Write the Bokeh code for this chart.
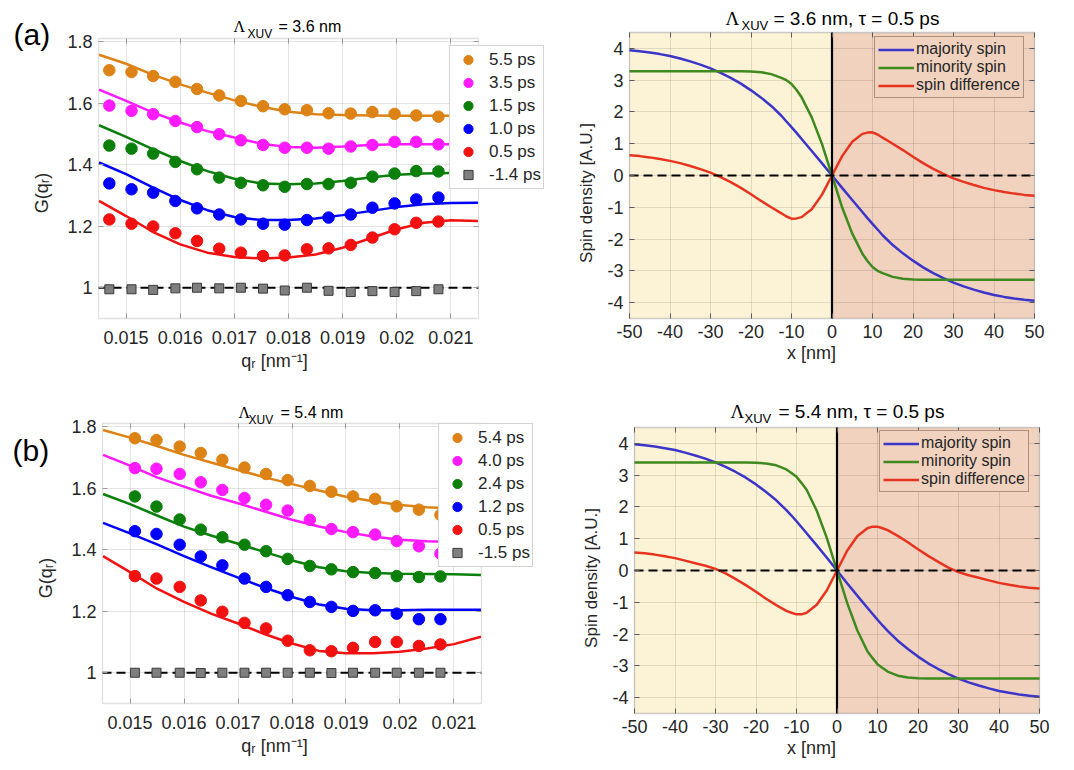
from bokeh.plotting import figure
from bokeh.models import (Range1d, FixedTicker, CustomJSTickFormatter, BoxAnnotation,
                          Label, Legend, LegendItem, LinearAxis)
from bokeh.layouts import row, column
from bokeh.embed import file_html
from bokeh.resources import INLINE

FONT = "Liberation Sans"
SERIF = "Liberation Serif"

# ---------------- data: panel (a), Lambda_XUV = 3.6 nm ----------------
q_a = [0.01469, 0.01510, 0.01550, 0.01591, 0.01631, 0.01672, 0.01712, 0.01753,
       0.01793, 0.01834, 0.01874, 0.01915, 0.01955, 0.01996, 0.02036, 0.02077]
labels_a = ["5.5 ps", "3.5 ps", "1.5 ps", "1.0 ps", "0.5 ps"]
g_a_55 = [1.707, 1.701, 1.688, 1.669, 1.646, 1.625, 1.607, 1.590, 1.580, 1.577, 1.567, 1.566, 1.571, 1.565, 1.560, 1.556]
g_a_35 = [1.592, 1.575, 1.564, 1.542, 1.522, 1.499, 1.479, 1.464, 1.455, 1.455, 1.452, 1.459, 1.464, 1.474, 1.474, 1.466]
g_a_15 = [1.462, 1.452, 1.436, 1.409, 1.385, 1.358, 1.341, 1.333, 1.328, 1.337, 1.337, 1.341, 1.361, 1.371, 1.379, 1.378]
g_a_10 = [1.339, 1.320, 1.309, 1.282, 1.258, 1.238, 1.222, 1.208, 1.205, 1.220, 1.228, 1.238, 1.260, 1.274, 1.287, 1.293]
g_a_05 = [1.222, 1.208, 1.199, 1.177, 1.152, 1.127, 1.114, 1.103, 1.105, 1.125, 1.128, 1.139, 1.163, 1.190, 1.211, 1.215]
ref_a_label = "-1.4 ps"
g_a_ref = [0.995, 0.995, 0.993, 0.998, 1.000, 0.998, 1.000, 0.997, 0.991, 1.000, 0.990, 0.986, 0.989, 0.986, 0.989, 0.995]

q_fit = [0.0145, 0.0150, 0.0155, 0.0160, 0.0165, 0.0170, 0.0175, 0.0180,
         0.0185, 0.0190, 0.0195, 0.0200, 0.0205, 0.0210, 0.0215]
fit_a_55 = [1.757, 1.728, 1.692, 1.661, 1.634, 1.609, 1.588, 1.572, 1.564, 1.561, 1.560, 1.559, 1.559, 1.559, 1.559]
fit_a_35 = [1.644, 1.607, 1.569, 1.537, 1.509, 1.488, 1.468, 1.457, 1.455, 1.459, 1.464, 1.466, 1.466, 1.466, 1.466]
fit_a_15 = [1.528, 1.490, 1.450, 1.412, 1.379, 1.354, 1.339, 1.336, 1.339, 1.347, 1.358, 1.367, 1.371, 1.373, 1.373]
fit_a_10 = [1.407, 1.369, 1.325, 1.285, 1.252, 1.230, 1.220, 1.220, 1.225, 1.236, 1.249, 1.262, 1.271, 1.275, 1.276]
fit_a_05 = [1.282, 1.233, 1.181, 1.141, 1.114, 1.100, 1.095, 1.098, 1.108, 1.130, 1.160, 1.190, 1.211, 1.219, 1.217]

# ---------------- data: panel (b), Lambda_XUV = 5.4 nm ----------------
q_b = [0.01509, 0.01549, 0.01592, 0.01631, 0.01671, 0.01712, 0.01752, 0.01792,
       0.01833, 0.01873, 0.01913, 0.01954, 0.01994, 0.02035, 0.02075]
labels_b = ["5.4 ps", "4.0 ps", "2.4 ps", "1.2 ps", "0.5 ps"]
g_b_54 = [1.762, 1.756, 1.735, 1.714, 1.692, 1.667, 1.646, 1.626, 1.607, 1.588, 1.573, 1.565, 1.541, 1.530, 1.513]
g_b_40 = [1.665, 1.663, 1.646, 1.619, 1.594, 1.568, 1.546, 1.527, 1.497, 1.467, 1.457, 1.449, 1.428, 1.411, 1.387]
g_b_24 = [1.573, 1.540, 1.498, 1.465, 1.440, 1.416, 1.395, 1.370, 1.347, 1.336, 1.327, 1.324, 1.314, 1.311, 1.313]
g_b_12 = [1.460, 1.451, 1.416, 1.378, 1.349, 1.306, 1.279, 1.252, 1.230, 1.214, 1.201, 1.203, 1.192, 1.174, 1.174]
g_b_05 = [1.314, 1.306, 1.279, 1.235, 1.198, 1.162, 1.144, 1.104, 1.073, 1.070, 1.081, 1.100, 1.100, 1.087, 1.092]
ref_b_label = "-1.5 ps"
g_b_ref = [1.000, 1.000, 1.000, 0.999, 1.000, 1.000, 1.000, 1.000, 1.000, 0.999, 1.000, 1.000, 1.000, 1.000, 1.000]

fit_b_54 = [1.789, 1.764, 1.737, 1.708, 1.683, 1.659, 1.635, 1.613, 1.592, 1.572, 1.557, 1.545, 1.538, 1.534, 1.532]
fit_b_40 = [1.708, 1.673, 1.635, 1.605, 1.575, 1.551, 1.524, 1.497, 1.475, 1.457, 1.443, 1.432, 1.427, 1.425, 1.424]
fit_b_24 = [1.581, 1.548, 1.511, 1.475, 1.446, 1.419, 1.392, 1.365, 1.343, 1.330, 1.324, 1.322, 1.321, 1.320, 1.318]
fit_b_12 = [1.487, 1.453, 1.417, 1.379, 1.343, 1.309, 1.276, 1.246, 1.222, 1.208, 1.203, 1.203, 1.205, 1.205, 1.205]
fit_b_05 = [1.379, 1.327, 1.273, 1.230, 1.192, 1.160, 1.125, 1.095, 1.071, 1.063, 1.063, 1.068, 1.079, 1.093, 1.117]

baseline_g = 1.0
q_range = (0.01449, 0.02151)
g_range = (0.9, 1.81)

# ---------------- data: spin density panels ----------------
x_nm = [-50, -47.5, -45, -42.5, -40, -37.5, -35, -32.5, -30, -27.5, -25, -22.5, -20, -17.5,
        -15, -12.5, -11.25, -10, -8.75, -7.5, -5, -2.5, 0, 2.5, 5, 7.5, 8.75, 10, 11.25, 12.5,
        15, 17.5, 20, 22.5, 25, 27.5, 30, 32.5, 35, 37.5, 40, 42.5, 45, 47.5, 50]
spin_labels = ["majority spin", "minority spin", "spin difference"]

maj_c = [3.94, 3.91, 3.87, 3.82, 3.76, 3.68, 3.59, 3.49, 3.37, 3.23, 3.07, 2.89, 2.68, 2.45,
         2.19, 1.88, 1.70, 1.52, 1.34, 1.15, 0.77, 0.39, 0.0, -0.39, -0.77, -1.15, -1.34, -1.52,
         -1.70, -1.88, -2.19, -2.45, -2.68, -2.89, -3.07, -3.23, -3.37, -3.49, -3.59, -3.68,
         -3.76, -3.82, -3.87, -3.91, -3.94]
min_c = [3.28, 3.28, 3.28, 3.28, 3.28, 3.28, 3.28, 3.28, 3.28, 3.28, 3.28, 3.28, 3.27, 3.25,
         3.19, 3.07, 3.00, 2.88, 2.69, 2.46, 1.83, 1.00, 0.0, -1.00, -1.83, -2.46, -2.69, -2.88,
         -3.00, -3.07, -3.19, -3.25, -3.27, -3.28, -3.28, -3.28, -3.28, -3.28, -3.28, -3.28,
         -3.28, -3.28, -3.28, -3.28, -3.28]
dif_c = [0.64, 0.61, 0.57, 0.52, 0.46, 0.39, 0.30, 0.20, 0.09, -0.05, -0.21, -0.39, -0.59, -0.80,
         -1.00, -1.19, -1.29, -1.36, -1.35, -1.31, -1.06, -0.61, 0.0, 0.61, 1.06, 1.31, 1.35, 1.36,
         1.29, 1.19, 1.00, 0.80, 0.59, 0.39, 0.21, 0.05, -0.09, -0.20, -0.30, -0.39,
         -0.46, -0.52, -0.57, -0.61, -0.64]

maj_d = [3.97, 3.94, 3.90, 3.85, 3.79, 3.71, 3.62, 3.52, 3.40, 3.26, 3.10, 2.92, 2.71, 2.47,
         2.21, 1.90, 1.73, 1.55, 1.36, 1.17, 0.79, 0.40, 0.0, -0.40, -0.79, -1.17, -1.36, -1.55,
         -1.73, -1.90, -2.21, -2.47, -2.71, -2.92, -3.10, -3.26, -3.40, -3.52, -3.62, -3.71,
         -3.79, -3.85, -3.90, -3.94, -3.97]
min_d = [3.40, 3.40, 3.40, 3.40, 3.40, 3.40, 3.40, 3.40, 3.40, 3.40, 3.40, 3.40, 3.39, 3.37,
         3.31, 3.18, 3.07, 2.95, 2.75, 2.54, 1.88, 1.02, 0.0, -1.02, -1.88, -2.54, -2.75, -2.95,
         -3.07, -3.18, -3.31, -3.37, -3.39, -3.40, -3.40, -3.40, -3.40, -3.40, -3.40, -3.40,
         -3.40, -3.40, -3.40, -3.40, -3.40]
dif_d = [0.57, 0.54, 0.50, 0.45, 0.39, 0.31, 0.23, 0.15, 0.05, -0.09, -0.27, -0.46, -0.67, -0.89,
         -1.09, -1.27, -1.33, -1.38, -1.38, -1.33, -1.08, -0.62, 0.0, 0.62, 1.08, 1.33, 1.38, 1.38,
         1.33, 1.27, 1.09, 0.89, 0.67, 0.46, 0.27, 0.09, -0.05, -0.15, -0.23, -0.31,
         -0.39, -0.45, -0.50, -0.54, -0.57]

interface_x = 0.0
zero_level = 0.0
x_range_nm = (-50, 50)
s_range = (-4.5, 4.5)

# ---------------- ticks ----------------
q_ticks = [0.015, 0.016, 0.017, 0.018, 0.019, 0.020, 0.021]
q_tick_labels = ["0.015", "0.016", "0.017", "0.018", "0.019", "0.02", "0.021"]
g_ticks = [1.0, 1.2, 1.4, 1.6, 1.8]
g_tick_labels = ["1", "1.2", "1.4", "1.6", "1.8"]
x_ticks = [-50, -40, -30, -20, -10, 0, 10, 20, 30, 40, 50]
x_tick_labels = ["-50", "-40", "-30", "-20", "-10", "0", "10", "20", "30", "40", "50"]
s_ticks = [-4, -3, -2, -1, 0, 1, 2, 3, 4]
s_tick_labels = ["-4", "-3", "-2", "-1", "0", "1", "2", "3", "4"]

series_colors = ["#DD8214", "#FF1AFF", "#0A7F0A", "#0000FF", "#F21010"]
spin_colors = ["#3B35C8", "#3E8A1E", "#E8341F"]
YELLOW = "#FCF3D6"
SALMON = "#F0D2BE"
TXT = "#262626"


class Panel:
    """A figure whose frame fills the whole figure; the visible axes box is placed inside it."""

    def __init__(self, fig_box, vis_box, xr, yr):
        fx0, fy0, fw, fh = fig_box
        bx0, by0, bx1, by1 = vis_box
        x0, x1 = xr
        y0, y1 = yr
        sx = (x1 - x0) / (bx1 - bx0)
        sy = (y1 - y0) / (by1 - by0)
        X0 = x0 - (bx0 - fx0) * sx
        X1 = x1 + (fx0 + fw - bx1) * sx
        Y1 = y1 + (by0 - fy0) * sy
        Y0 = y0 - (fy0 + fh - by1) * sy
        self.fx0, self.fy0, self.fw, self.fh = fx0, fy0, fw, fh
        self.xr, self.yr = xr, yr
        self.p = figure(width=fw, height=fh, x_range=Range1d(X0, X1), y_range=Range1d(Y0, Y1),
                        min_border=0, min_border_left=0, min_border_right=0,
                        min_border_top=0, min_border_bottom=0,
                        x_axis_location=None, y_axis_location=None,
                        toolbar_location=None, output_backend="svg",
                        background_fill_color="white", border_fill_color="white")
        self.p.outline_line_color = None

    def sc(self, px, py):
        return px - self.fx0, self.fy0 + self.fh - py

    def text(self, px, py, txt, size, font=FONT, color="black"):
        sx, sy = self.sc(px, py)
        self.p.add_layout(Label(x=sx, y=sy, x_units="screen", y_units="screen", text=txt,
                                text_font=font, text_font_size=size, text_color=color,
                                text_baseline="alphabetic", text_align="left"))


def decorate(pan, xt, xl, yt, yl, frame_col, xlab, ylab, xstand, ystand, xlstand, ylstand,
             ylab_size):
    p = pan.p
    x0, x1 = pan.xr
    y0, y1 = pan.yr
    p.xgrid.ticker = FixedTicker(ticks=xt)
    p.ygrid.ticker = FixedTicker(ticks=yt)
    p.grid.grid_line_color = "#262626"
    p.grid.grid_line_alpha = 0.13
    # white masks hide grid lines outside the axes box
    for kw in (dict(right=x0), dict(left=x1), dict(bottom=y1), dict(top=y0)):
        p.add_layout(BoxAnnotation(fill_color="white", fill_alpha=1, line_color=None,
                                   level="underlay", **kw))
    bottom = LinearAxis(fixed_location=y0, ticker=FixedTicker(ticks=xt),
                        major_label_overrides={float(t): s for t, s in zip(xt, xl)},
                        axis_label=xlab)
    left = LinearAxis(fixed_location=x0, ticker=FixedTicker(ticks=yt),
                      major_label_overrides={float(t): s for t, s in zip(yt, yl)},
                      axis_label=ylab)
    top = LinearAxis(fixed_location=y1, ticker=FixedTicker(ticks=xt),
                     formatter=CustomJSTickFormatter(code="return ''"))
    right = LinearAxis(fixed_location=x1, ticker=FixedTicker(ticks=yt),
                       formatter=CustomJSTickFormatter(code="return ''"))
    for ax, st, lst in ((bottom, xstand, xlstand), (left, ystand, ylstand), (top, 0, 0), (right, 0, 0)):
        ax.axis_line_color = None
        ax.major_tick_in = 5
        ax.major_tick_out = 0
        ax.minor_tick_line_color = None
        ax.major_tick_line_color = frame_col
        ax.major_label_text_font = FONT
        ax.major_label_text_font_size = "18px"
        ax.major_label_text_color = TXT
        ax.major_label_standoff = st
        ax.axis_label_text_font = FONT
        ax.axis_label_text_font_size = "18px"
        ax.axis_label_text_font_style = "normal"
        ax.axis_label_text_color = TXT
        ax.axis_label_standoff = lst
    left.axis_label_text_font_size = ylab_size
    p.add_layout(bottom, "below")
    p.add_layout(left, "left")
    p.add_layout(top, "above")
    p.add_layout(right, "right")
    # visible axes box outline
    p.add_layout(BoxAnnotation(left=x0, right=x1, bottom=y0, top=y1, fill_alpha=0,
                               fill_color=None, line_color=frame_col, line_width=1.3,
                               level="guide"))


def title(pan, lam_xy, sub_xy, main_xy, fs_main, fs_sub, txt):
    pan.text(lam_xy[0], lam_xy[1], "Λ", fs_main, font=SERIF)
    pan.text(sub_xy[0], sub_xy[1], "XUV", fs_sub)
    pan.text(main_xy[0], main_xy[1], txt, fs_main)


def g_panel(fig_box, vis_box, q, pts, fits, labels, ref_vals, ref_label, legend_bl):
    pan = Panel(fig_box, vis_box, q_range, g_range)
    p = pan.p
    decorate(pan, q_ticks, q_tick_labels, g_ticks, g_tick_labels, "#9A9A9A",
             "qᵣ [nm⁻¹]", "G(qᵣ)", 12, 6, 4, 12, "18px")
    p.segment(x0=q_range[0], x1=q_range[1], y0=baseline_g, y1=baseline_g,
              line_color="black", line_width=2.2, line_dash="9 5")
    items = []
    for vals, fit, lab, col in zip(pts, fits, labels, series_colors):
        p.line(q_fit, fit, line_color=col, line_width=2.5)
        r = p.scatter(q, vals, marker="circle", size=11.5, fill_color=col, line_color=col)
        items.append(LegendItem(label=lab, renderers=[r]))
    r = p.scatter(q, ref_vals, marker="square", size=9, fill_color="#7F7F7F",
                  line_color="#3A3A3A", line_width=1)
    items.append(LegendItem(label=ref_label, renderers=[r]))
    leg = Legend(items=items, location=pan.sc(*legend_bl), label_text_font=FONT,
                 label_text_font_size="17px", label_text_color=TXT, glyph_width=32,
                 glyph_height=23, label_height=23, spacing=0, padding=2, margin=0,
                 label_standoff=5, border_line_color="#A8A8A8", border_line_width=1,
                 background_fill_color="white", background_fill_alpha=1)
    p.add_layout(leg)
    return pan


def s_panel(fig_box, vis_box, maj, mino, dif, legend_bl):
    pan = Panel(fig_box, vis_box, x_range_nm, s_range)
    p = pan.p
    p.add_layout(BoxAnnotation(left=x_range_nm[0], right=interface_x, bottom=s_range[0],
                               top=s_range[1], fill_color=YELLOW, fill_alpha=1,
                               line_color=None, level="image"))
    p.add_layout(BoxAnnotation(left=interface_x, right=x_range_nm[1], bottom=s_range[0],
                               top=s_range[1], fill_color=SALMON, fill_alpha=1,
                               line_color=None, level="image"))
    decorate(pan, x_ticks, x_tick_labels, s_ticks, s_tick_labels, "#5A5A5A",
             "x [nm]", "Spin density [A.U.]", 6, 6, 2, 8, "17px")
    items = []
    for vals, lab, col in zip((maj, mino, dif), spin_labels, spin_colors):
        r = p.line(x_nm, vals, line_color=col, line_width=2.5)
        items.append(LegendItem(label=lab, renderers=[r]))
    p.segment(x0=x_range_nm[0], x1=x_range_nm[1], y0=zero_level, y1=zero_level,
              line_color="black", line_width=2.2, line_dash="9 5")
    p.segment(x0=interface_x, x1=interface_x, y0=s_range[0], y1=s_range[1],
              line_color="black", line_width=2.2)
    leg = Legend(items=items, location=pan.sc(*legend_bl), label_text_font=FONT,
                 label_text_font_size="16px", label_text_color=TXT, glyph_width=36,
                 glyph_height=17, label_height=17, spacing=0, padding=3, margin=0,
                 label_standoff=2, border_line_color="#6E4B3C", border_line_width=1.5,
                 background_fill_color=SALMON, background_fill_alpha=1)
    p.add_layout(leg)
    return pan


# page geometry (pixels from the top-left of the page)
pa = g_panel((0, 0, 548, 385), (98, 38, 478, 318), q_a,
             [g_a_55, g_a_35, g_a_15, g_a_10, g_a_05],
             [fit_a_55, fit_a_35, fit_a_15, fit_a_10, fit_a_05],
             labels_a, g_a_ref, ref_a_label, (449, 189))
title(pa, (233, 26), (247, 33), (278, 26), "16px", "12px", "= 3.6 nm")
pa.text(13, 34, "(a)", "30px")

pb = g_panel((0, 385, 548, 385), (102, 423, 481, 703), q_b,
             [g_b_54, g_b_40, g_b_24, g_b_12, g_b_05],
             [fit_b_54, fit_b_40, fit_b_24, fit_b_12, fit_b_05],
             labels_b, g_b_ref, ref_b_label, (438, 567))
title(pb, (238, 412), (248, 419), (280, 412), "16px", "12px", "= 5.4 nm")
pb.text(12, 450, "(b)", "30px")

pc = s_panel((548, 0, 526, 385), (629, 32, 1034, 318), maj_c, min_c, dif_c, (874, 98))
title(pc, (725, 18), (741, 25), (773, 18), "19px", "13px", "= 3.6 nm, τ = 0.5 ps")

pd = s_panel((548, 385, 526, 385), (634, 427, 1039, 713), maj_d, min_d, dif_d, (879, 492))
title(pd, (730, 411), (744, 418), (778, 411), "19px", "13px", "= 5.4 nm, τ = 0.5 ps")

layout = row(column(pa.p, pb.p), column(pc.p, pd.p))
open("out.html", "w").write(file_html(layout, INLINE))
